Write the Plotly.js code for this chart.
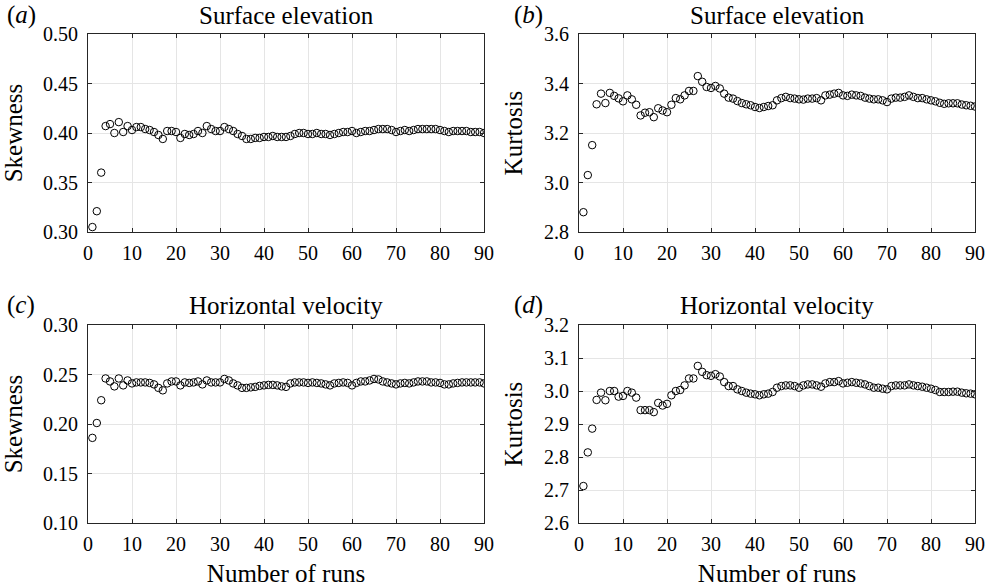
<!DOCTYPE html>
<html>
<head>
<meta charset="utf-8">
<script src="https://cdn.plot.ly/plotly-3.0.1.min.js"></script>
<style>html,body{margin:0;padding:0;background:#fff;}#chart{width:994px;height:587px;}</style>
</head>
<body>
<div id="chart"></div>
<script>
const runs = [1,2,3,4,5,6,7,8,9,10,11,12,13,14,15,16,17,18,19,20,21,22,23,24,25,26,27,28,29,30,
31,32,33,34,35,36,37,38,39,40,41,42,43,44,45,46,47,48,49,50,51,52,53,54,55,56,57,58,59,60,
61,62,63,64,65,66,67,68,69,70,71,72,73,74,75,76,77,78,79,80,81,82,83,84,85,86,87,88,89,90];

const skewSurface = [0.305,0.321,0.360,0.407,0.409,0.400,0.411,0.401,0.407,0.403,
0.406,0.406,0.404,0.403,0.401,0.398,0.394,0.402,0.402,0.401,
0.395,0.399,0.398,0.399,0.402,0.400,0.407,0.404,0.402,0.402,
0.406,0.404,0.402,0.399,0.397,0.394,0.394,0.395,0.395,0.396,
0.396,0.397,0.396,0.396,0.396,0.397,0.399,0.400,0.400,0.399,
0.399,0.400,0.399,0.399,0.398,0.399,0.400,0.401,0.401,0.402,
0.400,0.401,0.402,0.402,0.403,0.404,0.404,0.404,0.403,0.401,
0.402,0.403,0.402,0.403,0.404,0.404,0.404,0.404,0.404,0.403,
0.402,0.401,0.402,0.402,0.402,0.402,0.401,0.401,0.401,0.400];

const kurtSurface = [2.88,3.03,3.151,3.316,3.359,3.321,3.362,3.350,3.340,3.328,
3.352,3.336,3.314,3.271,3.282,3.284,3.264,3.300,3.291,3.284,
3.314,3.341,3.336,3.352,3.370,3.370,3.430,3.407,3.386,3.382,
3.390,3.380,3.359,3.343,3.339,3.329,3.321,3.316,3.312,3.305,
3.301,3.305,3.309,3.312,3.332,3.341,3.346,3.341,3.339,3.336,
3.335,3.339,3.339,3.341,3.332,3.352,3.355,3.359,3.362,3.352,
3.350,3.355,3.352,3.350,3.343,3.339,3.336,3.336,3.332,3.325,
3.339,3.343,3.343,3.346,3.352,3.346,3.341,3.341,3.336,3.332,
3.328,3.322,3.318,3.320,3.320,3.320,3.315,3.312,3.310,3.307];

const skewVelocity = [0.186,0.201,0.224,0.246,0.243,0.238,0.246,0.239,0.244,0.241,
0.242,0.242,0.242,0.2415,0.240,0.2365,0.234,0.241,0.243,0.243,
0.239,0.242,0.2415,0.242,0.243,0.240,0.244,0.242,0.242,0.242,
0.2455,0.244,0.241,0.239,0.2365,0.2365,0.237,0.2375,0.2385,0.239,
0.2395,0.2395,0.239,0.238,0.2375,0.241,0.242,0.242,0.242,0.2415,
0.242,0.2415,0.241,0.240,0.239,0.241,0.2415,0.242,0.2415,0.239,
0.2415,0.243,0.243,0.244,0.2455,0.245,0.243,0.242,0.241,0.240,
0.241,0.2415,0.241,0.242,0.243,0.243,0.243,0.242,0.242,0.2415,
0.240,0.240,0.241,0.2415,0.242,0.242,0.242,0.242,0.242,0.241];

const kurtVelocity = [2.712,2.814,2.886,2.973,2.995,2.972,3.000,3.000,2.983,2.985,
3.000,2.995,2.980,2.942,2.942,2.942,2.936,2.964,2.956,2.961,
2.987,3.000,3.003,3.017,3.038,3.038,3.076,3.058,3.048,3.046,
3.051,3.044,3.027,3.015,3.015,3.005,3.000,2.995,2.992,2.990,
2.987,2.990,2.992,2.997,3.010,3.015,3.017,3.017,3.015,3.010,
3.017,3.020,3.020,3.017,3.013,3.023,3.027,3.027,3.030,3.023,
3.025,3.027,3.025,3.023,3.020,3.015,3.010,3.010,3.007,3.005,
3.015,3.017,3.017,3.017,3.020,3.017,3.015,3.013,3.010,3.007,
3.003,2.997,2.997,2.997,2.998,2.998,2.995,2.993,2.992,2.990];

const panelTitles = ['Surface elevation','Surface elevation','Horizontal velocity','Horizontal velocity'];
const panelLetters = ['a','b','c','d'];
const yTitles = ['Skewness','Kurtosis','Skewness','Kurtosis'];
const yRanges = [[0.30,0.50],[2.8,3.6],[0.10,0.30],[2.6,3.2]];
const yDticks = [0.05,0.2,0.05,0.1];
const yFormats = ['.2f','.1f','.2f','.1f'];
const xTickVals = [0,10,20,30,40,50,60,70,80,90];
const xTitle = 'Number of runs';

const FONT = '"Liberation Serif", "Times New Roman", Times, serif';
const AXC = '#262626';
const series = [skewSurface, kurtSurface, skewVelocity, kurtVelocity];

const W = 994, H = 587;
const xDom = [[88/W, 484/W],[579/W, 975/W],[88/W, 484/W],[579/W, 975/W]];
const yDom = [[1-232/H, 1-34/H],[1-232/H, 1-34/H],[1-523/H, 1-325/H],[1-523/H, 1-325/H]];

const data = series.map((s, i) => ({
  type: 'scatter', mode: 'markers', x: runs, y: s,
  xaxis: i === 0 ? 'x' : 'x' + (i+1), yaxis: i === 0 ? 'y' : 'y' + (i+1),
  marker: {symbol: 'circle-open', size: 7.5, color: '#000', line: {color: '#000', width: 1}},
  showlegend: false, hoverinfo: 'x+y'
}));

const layout = {
  width: W, height: H,
  margin: {l: 0, r: 0, t: 0, b: 0},
  paper_bgcolor: '#fff', plot_bgcolor: '#fff',
  font: {family: FONT, color: '#000', size: 20},
  annotations: []
};

for (let i = 0; i < 4; i++) {
  const sx = i === 0 ? '' : String(i+1);
  layout['xaxis' + sx] = {
    domain: xDom[i], anchor: 'y' + sx, range: [0, 90],
    tickmode: 'array', tickvals: xTickVals, ticktext: xTickVals.map(String),
    ticks: 'inside', ticklen: 4, tickwidth: 1, tickcolor: AXC,
    showline: true, linecolor: AXC, linewidth: 1, mirror: 'ticks',
    showgrid: true, gridcolor: '#e5e5e5', gridwidth: 1, zeroline: false,
    tickfont: {family: FONT, size: 20, color: '#000'}, ticklabelstandoff: 3,
    title: i >= 2 ? {text: xTitle, font: {family: FONT, size: 25, color: '#000'}, standoff: 14} : {text: ''}
  };
  layout['yaxis' + sx] = {
    domain: yDom[i], anchor: 'x' + sx, range: yRanges[i],
    tickmode: 'linear', tick0: yRanges[i][0], dtick: yDticks[i], tickformat: yFormats[i],
    ticks: 'inside', ticklen: 4, tickwidth: 1, tickcolor: AXC,
    showline: true, linecolor: AXC, linewidth: 1, mirror: 'ticks',
    showgrid: true, gridcolor: '#e5e5e5', gridwidth: 1, zeroline: false,
    tickfont: {family: FONT, size: 20, color: '#000'}, ticklabelstandoff: 5,
    title: {text: yTitles[i], font: {family: FONT, size: 25, color: '#000'}, standoff: 14}
  };
  const top = i < 2;
  layout.annotations.push({
    xref: 'paper', yref: 'paper', x: (xDom[i][0] + xDom[i][1]) / 2, y: top ? 1 - 15/H : 1 - 305/H,
    xanchor: 'center', yanchor: 'middle', showarrow: false,
    text: panelTitles[i], font: {family: FONT, size: 25, color: '#000'}
  });
  layout.annotations.push({
    xref: 'paper', yref: 'paper', x: (i % 2 === 0 ? 5 : 512) / W, y: top ? 1 - 15/H : 1 - 305/H,
    xanchor: 'left', yanchor: 'middle', showarrow: false,
    text: '(<i>' + panelLetters[i] + '</i>)', font: {family: FONT, size: 25, color: '#000'}
  });
}

Plotly.newPlot('chart', data, layout, {staticPlot: true, displayModeBar: false});
</script>
</body>
</html>
